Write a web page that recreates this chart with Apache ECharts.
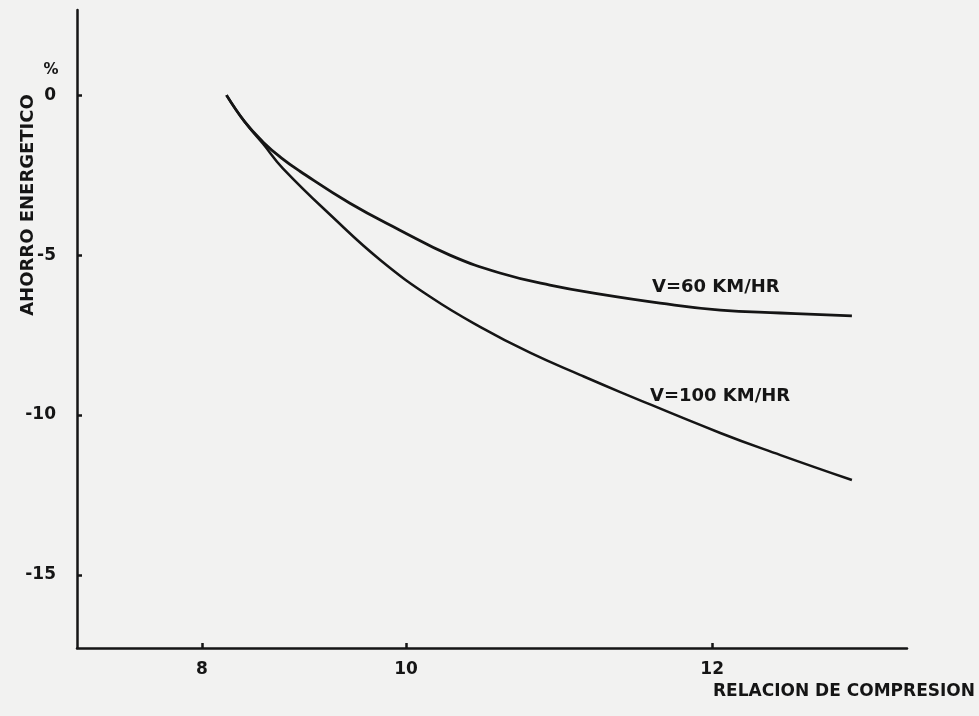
<!DOCTYPE html>
<html>
<head>
<meta charset="utf-8">
<script src="https://cdn.jsdelivr.net/npm/echarts@6/dist/echarts.min.js"></script>
<style>
  html, body { margin: 0; padding: 0; background: #f2f2f1; }
  #chart { width: 979px; height: 716px; }
</style>
</head>
<body>
<div id="chart"></div>
<script>
// Compression ratio (x) against energy saving in percent (y)
const ratio60 = [8.24, 8.42, 8.60, 8.78, 8.96, 9.45, 9.94, 10.43, 10.92, 11.41, 11.90, 12.49, 13.08, 13.67, 14.37];
const saving60 = [0, -0.84, -1.47, -1.97, -2.38, -3.38, -4.22, -5.00, -5.56, -5.94, -6.22, -6.50, -6.72, -6.81, -6.90];

const ratio100 = [8.24, 8.42, 8.60, 8.79, 9.28, 9.75, 10.24, 10.73, 11.22, 11.71, 12.10, 13.08, 13.67, 14.37];
const saving100 = [0, -0.84, -1.53, -2.28, -3.81, -5.16, -6.31, -7.25, -8.06, -8.75, -9.28, -10.56, -11.25, -12.03];

// Tick positions on each axis and the text printed at them
const xTickAt = [8, 10, 13];
const xTickText = ['8', '10', '12'];
const yTickAt = [0, -5, -10, -15];
const yTickText = ['0', '-5', '-10', '-15'];

const seriesNames = ['V=60 KM/HR', 'V=100 KM/HR'];
const xTitle = 'RELACION DE COMPRESION';
const yTitle = 'AHORRO ENERGETICO';
const yUnit = '%';

const ink = '#151515';
const font = 'DejaVu Sans';

const pairs = (xs, ys) => xs.map((x, i) => [x, ys[i]]);

const chart = echarts.init(document.getElementById('chart'), null, { renderer: 'canvas' });

chart.setOption({
  backgroundColor: '#f2f2f1',
  animation: false,
  grid: { left: 77, right: 72, top: 10, bottom: 68 },
  xAxis: {
    type: 'value',
    min: 6.775,
    max: 14.91,
    axisLine: { show: true, onZero: false, lineStyle: { color: ink, width: 2.5 } },
    axisTick: { show: true, inside: true, length: 5, customValues: xTickAt, lineStyle: { color: ink, width: 2.5 } },
    axisLabel: {
      customValues: xTickAt,
      formatter: v => xTickText[xTickAt.indexOf(v)] ?? '',
      color: ink, fontFamily: font, fontWeight: 'bold', fontSize: 17, margin: 13
    },
    splitLine: { show: false }
  },
  yAxis: {
    type: 'value',
    min: -17.28,
    max: 2.66,
    axisLine: { show: true, onZero: false, lineStyle: { color: ink, width: 2.5 } },
    axisTick: { show: true, inside: true, length: 5, customValues: yTickAt, lineStyle: { color: ink, width: 2.5 } },
    axisLabel: {
      customValues: yTickAt,
      formatter: v => yTickText[yTickAt.indexOf(v)] ?? '',
      color: ink, fontFamily: font, fontWeight: 'bold', fontSize: 17, margin: 21
    },
    splitLine: { show: false }
  },
  series: [
    {
      name: seriesNames[0],
      type: 'line',
      data: pairs(ratio60, saving60),
      smooth: 0.45,
      symbol: 'none',
      lineStyle: { color: ink, width: 2.8 }
    },
    {
      name: seriesNames[1],
      type: 'line',
      data: pairs(ratio100, saving100),
      smooth: 0.45,
      symbol: 'none',
      lineStyle: { color: ink, width: 2.5 }
    }
  ],
  graphic: [
    {
      type: 'text', left: 652, top: 278,
      style: { text: seriesNames[0], fill: ink, font: 'bold 18px "DejaVu Sans"' }
    },
    {
      type: 'text', left: 650, top: 387,
      style: { text: seriesNames[1], fill: ink, font: 'bold 18px "DejaVu Sans"' }
    },
    {
      type: 'text', right: 4, top: 683,
      style: { text: xTitle, fill: ink, font: 'bold 17px "DejaVu Sans"' }
    },
    {
      type: 'text', x: 28, y: 205, rotation: Math.PI / 2,
      style: { text: yTitle, fill: ink, font: 'bold 18px "DejaVu Sans"', align: 'center', verticalAlign: 'middle' }
    },
    {
      type: 'text', x: 51, y: 70,
      style: { text: yUnit, fill: ink, font: 'bold 15px "DejaVu Sans"', align: 'center', verticalAlign: 'middle' }
    }
  ]
});
</script>
</body>
</html>
